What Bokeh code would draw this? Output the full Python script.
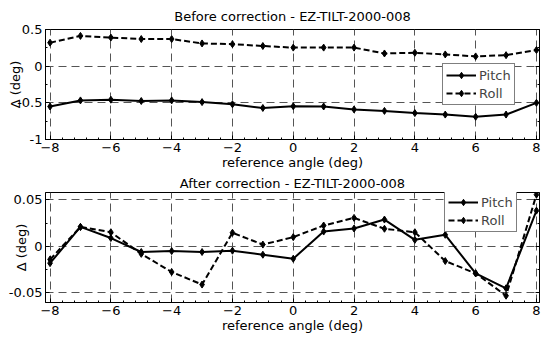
from bokeh.plotting import figure
from bokeh.layouts import column
from bokeh.models import (Range1d, FixedTicker, CustomJSTickFormatter, Legend, LegendItem,
                          LinearAxis)
from bokeh.embed import file_html
from bokeh.resources import INLINE

angles = list(range(-8, 9))
before_pitch = [-0.55, -0.467, -0.457, -0.475, -0.467, -0.49, -0.52, -0.57, -0.547,
                -0.55, -0.59, -0.61, -0.64, -0.66, -0.69, -0.66, -0.50]
before_roll = [0.32, 0.413, 0.39, 0.37, 0.37, 0.31, 0.30, 0.275, 0.253,
               0.253, 0.253, 0.173, 0.183, 0.16, 0.133, 0.15, 0.22]
after_pitch = [-0.018, 0.021, 0.009, -0.006, -0.005, -0.006, -0.0046, -0.0089, -0.0132,
               0.016, 0.0193, 0.0289, 0.0071, 0.0125, -0.029, -0.045, 0.0385]
after_roll = [-0.014, 0.021, 0.0153, -0.008, -0.0275, -0.041, 0.0147, 0.002, 0.010,
              0.0225, 0.0307, 0.019, 0.0153, -0.0157, -0.029, -0.053, 0.0557]

x_ticks = [-8, -6, -4, -2, 0, 2, 4, 6, 8]
top_y_ticks = [-1, -0.5, 0, 0.5]
bot_y_ticks = [-0.05, 0, 0.05]
top_title = "Before correction - EZ-TILT-2000-008"
bot_title = "After correction - EZ-TILT-2000-008"
x_label = "reference angle (deg)"
y_label = "\u0394 (deg)"

FONT = "DejaVu Sans"
FS = "13px"


def minor_list(lo, hi, step):
    out = []
    v = lo
    while v <= hi + 1e-9:
        out.append(round(v, 6))
        v += step
    return out


def make(title, ys_p, ys_r, yr, yticks, yminor, height, bt, bb, title_standoff,
         ylab_standoff, legend_xy):
    p = figure(width=542, height=height, output_backend="svg", toolbar_location=None,
               x_range=Range1d(-8.15, 8.1), y_range=Range1d(*yr),
               min_border_left=45, min_border_right=3, min_border_top=bt, min_border_bottom=bb)
    p.title.text = title
    p.title.align = "center"
    p.title.text_font = FONT
    p.title.text_font_size = FS
    p.title.text_font_style = "normal"
    p.title.text_color = "black"
    p.title.standoff = title_standoff
    p.title.offset = 0
    p.outline_line_color = "black"
    p.outline_line_width = 1
    p.background_fill_color = "white"
    p.border_fill_color = "white"

    xt = FixedTicker(ticks=x_ticks, minor_ticks=minor_list(-8, 8, 0.4))
    yt = FixedTicker(ticks=yticks, minor_ticks=yminor)
    for ax in p.xaxis:
        ax.ticker = xt
    for ax in p.yaxis:
        ax.ticker = yt
        ax.formatter = CustomJSTickFormatter(code="return String(Math.round(tick*1000)/1000);")
    for ax in p.xaxis + p.yaxis:
        ax.major_tick_in = 4
        ax.major_tick_out = 0
        ax.minor_tick_in = 2
        ax.minor_tick_out = 0
        ax.axis_line_color = "black"
        ax.major_label_text_font = FONT
        ax.major_label_text_font_size = FS
        ax.major_label_text_color = "black"
        ax.axis_label_text_font = FONT
        ax.axis_label_text_font_size = FS
        ax.axis_label_text_font_style = "normal"
        ax.axis_label_text_color = "black"
        ax.major_label_standoff = 3
        ax.axis_label_standoff = 0
    p.xaxis.axis_label = x_label
    p.yaxis.axis_label = y_label
    p.yaxis.axis_label_standoff = ylab_standoff

    # right axis: box ticks only
    ra = LinearAxis(ticker=yt, major_tick_in=4, major_tick_out=0, minor_tick_in=2,
                    minor_tick_out=0, axis_line_color="black", major_label_standoff=0,
                    formatter=CustomJSTickFormatter(code="return '';"))
    p.add_layout(ra, "right")

    p.xgrid.ticker = xt
    p.ygrid.ticker = yt
    for g in (p.xgrid, p.ygrid):
        g.grid_line_color = "#555555"
        g.grid_line_dash = "8 5"
        g.grid_line_width = 1

    lp = p.line(angles, ys_p, line_color="black", line_width=2)
    mp = p.scatter(angles, ys_p, marker="diamond", size=7, color="black")
    lr = p.line(angles, ys_r, line_color="black", line_width=2, line_dash="6 3")
    mr = p.scatter(angles, ys_r, marker="diamond", size=7, color="black")

    leg = Legend(items=[LegendItem(label="Pitch", renderers=[lp, mp]),
                        LegendItem(label="Roll", renderers=[lr, mr])],
                 location=legend_xy)
    leg.label_text_font = FONT
    leg.label_text_font_size = FS
    leg.label_standoff = 3
    leg.glyph_width = 30
    leg.glyph_height = 16
    leg.label_height = 16
    leg.spacing = 2
    leg.padding = 3
    leg.margin = 0
    leg.border_line_color = "black"
    leg.border_line_width = 1
    leg.background_fill_alpha = 1
    p.add_layout(leg, "center")
    return p


top = make(top_title, before_pitch, before_roll, (-1, 0.5), top_y_ticks,
           minor_list(-1, 0.5, 0.25), 172, 29, 31, 11, -9, (397, 34))
bot = make(bot_title, after_pitch, after_roll, (-0.0603, 0.058), bot_y_ticks,
           minor_list(-0.05, 0.05, 0.025), 168, 20, 38, 3, -23, (399, 70))

layout = column(top, bot, spacing=0)
open("out.html", "w").write(file_html(layout, INLINE))
